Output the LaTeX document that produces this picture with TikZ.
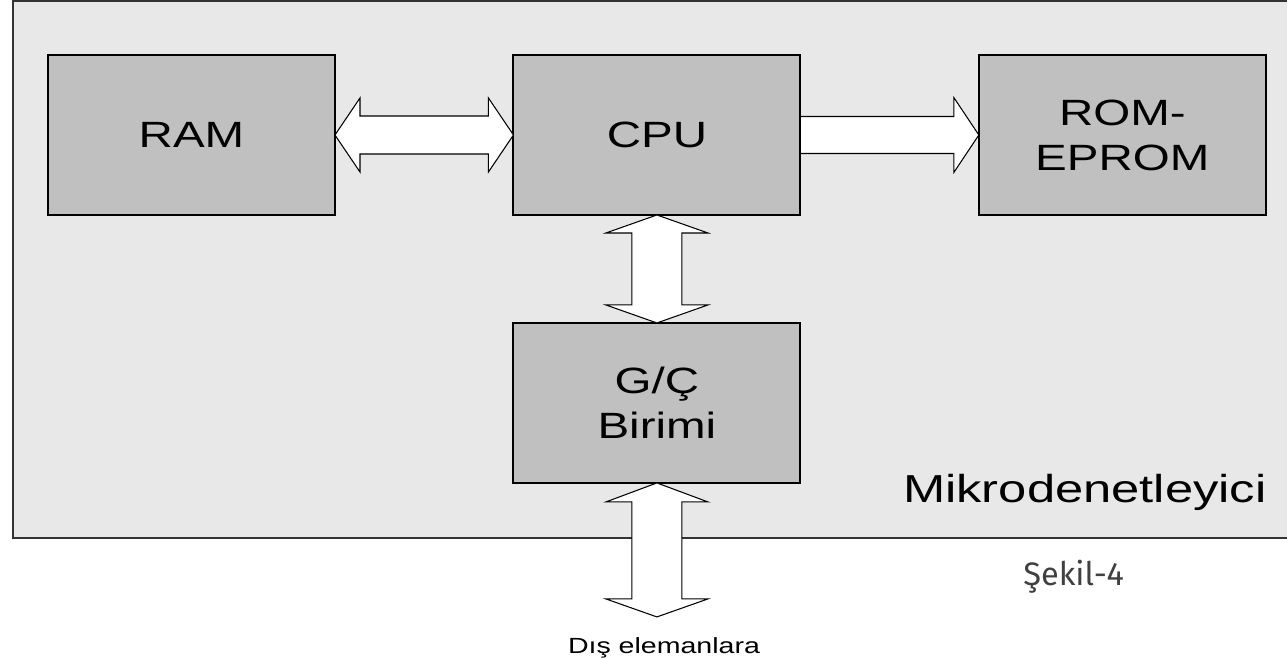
\documentclass[tikz,border=0pt]{standalone}
\usepackage{fontspec}
\usepackage{xcolor}
\usetikzlibrary{positioning, calc}
\newfontfamily\boxfont{Liberation Sans}[FakeStretch=1.3]
\newfontfamily\capfont{Fira Sans}
\definecolor{framebg}{HTML}{E8E8E8}
\definecolor{boxbg}{HTML}{C0C0C0}
\definecolor{frameline}{HTML}{333333}
\definecolor{capgray}{HTML}{404040}

\begin{document}
\begin{tikzpicture}[
  x=0.02cm, y=-0.02cm,
  node distance=2.16cm and 3.57cm,
  box/.style={draw, line width=1.1pt, fill=boxbg, align=center, outer sep=0pt,
              minimum width=5.74cm, minimum height=3.2cm,
              font=\boxfont\fontsize{20.8}{25.6}\selectfont},
  fat/.style={draw, fill=white, line width=0.6pt, line join=miter}
]
\useasboundingbox (0,0) rectangle (1287,658);
% outer frame
\fill[framebg] (13,1) rectangle (1300,538);
\draw[frameline, line width=1.4pt] (1300,1) -- (13,1) -- (13,538) -- (1300,538);

\node[box] (ram) at (191.5,135) {RAM};
\node[box, right=of ram] (cpu) {CPU};
\node[box, right=of cpu] (rom) {ROM-\\EPROM};
\node[box, below=of cpu] (io) {G/Ç\\Birimi};
\coordinate (out) at ($(io.south)+(0,134)$);

\node[anchor=base east, inner sep=0, font=\boxfont\fontsize{22.2}{27}\selectfont] (mcu) at (1267,502) {Mikrodenetleyici};
\node[anchor=base, inner sep=0, font=\boxfont\fontsize{12.5}{15}\selectfont] (dis) at (664,653) {Dış elemanlara};
\node[anchor=base west, inner sep=0, text=capgray, font=\capfont\fontsize{18.5}{22}\selectfont] (sekil) at (1023,585) {Şekil-4};

% bus arrows
\draw[fat] (ram.east) -- ++(25,-37) -- ++(0,18) -- ($(cpu.west)+(-25,-19)$) -- ++(0,-18)
  -- (cpu.west) -- ++(-25,37) -- ++(0,-18) -- ($(ram.east)+(25,19)$) -- ++(0,18) -- cycle;
\draw[fat] ($(cpu.east)+(0,-18.5)$) -- ($(rom.west)+(-25,-18.5)$) -- ++(0,-19)
  -- (rom.west) -- ++(-25,37.5) -- ++(0,-19) -- ($(cpu.east)+(0,18.5)$) -- cycle;
\draw[fat] (cpu.south) -- ++(51,18) -- ++(-26,0) -- ($(io.north)+(25,-18)$) -- ++(26,0)
  -- (io.north) -- ++(-51,-18) -- ++(26,0) -- ($(cpu.south)+(-25,18)$) -- ++(-26,0) -- cycle;
\draw[fat] (io.south) -- ++(51,19) -- ++(-26,0) -- ($(out)+(25,-18)$) -- ++(26,0)
  -- (out) -- ++(-51,-18) -- ++(26,0) -- ($(io.south)+(-25,19)$) -- ++(-26,0) -- cycle;
\end{tikzpicture}
\end{document}
